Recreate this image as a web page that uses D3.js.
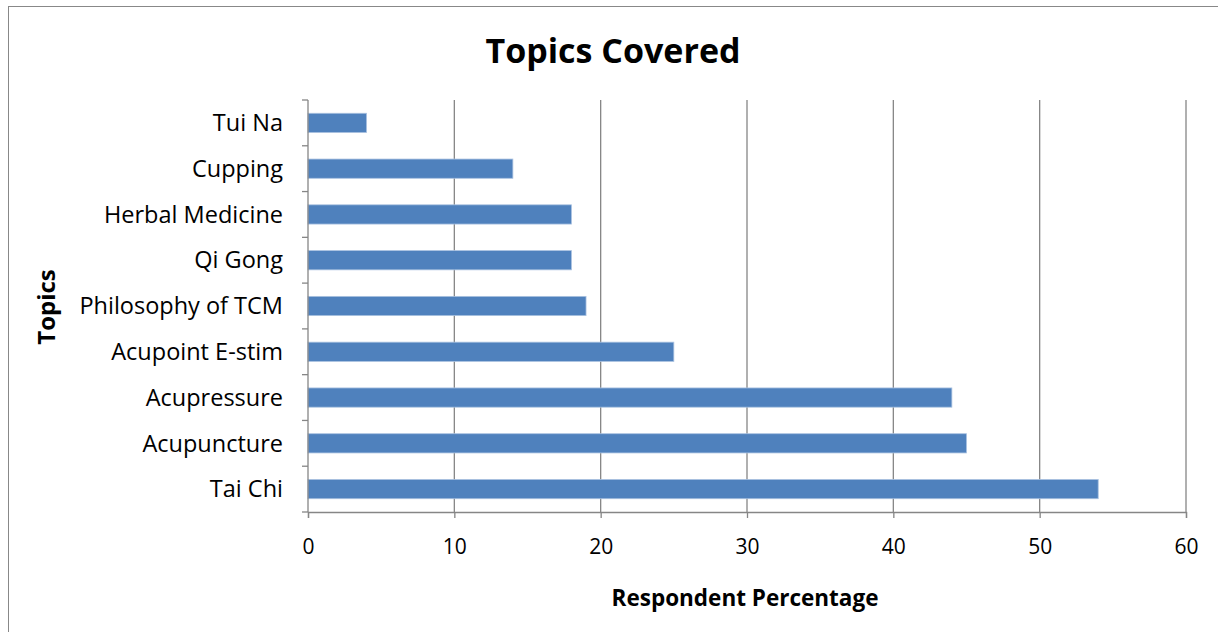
<!DOCTYPE html>
<html>
<head>
<meta charset="utf-8">
<script src="https://cdn.jsdelivr.net/npm/d3@7"></script>
<style>
  body { margin: 0; background: #fff; }
  svg { display: block; font-family: "Open Sans", sans-serif; }
</style>
</head>
<body>
<svg id="chart" width="1218" height="632"></svg>
<script>
'use strict'

// categories top to bottom
const topics = ['Tui Na', 'Cupping', 'Herbal Medicine', 'Qi Gong', 'Philosophy of TCM',
  'Acupoint E-stim', 'Acupressure', 'Acupuncture', 'Tai Chi']
const percentages = [4, 14, 18, 18, 19, 25, 44, 45, 54]
const xTicks = [0, 10, 20, 30, 40, 50, 60]

const svg = d3.select('#chart')
const margin = { top: 100, right: 32, bottom: 120, left: 308 }
const width = 1218 - margin.left - margin.right
const height = 632 - margin.top - margin.bottom

const gridColor = '#868686'
const fontFamily = '"Open Sans", sans-serif'

// chart frame
svg.append('rect')
  .attr('x', 8.5).attr('y', 6.5)
  .attr('width', 1218).attr('height', 640)
  .attr('fill', 'none').attr('stroke', '#888').attr('stroke-width', 1)

const g = svg.append('g').attr('transform', `translate(${margin.left},${margin.top})`)

const x = d3.scaleLinear().domain([0, 60]).range([0, width])
const y = d3.scaleBand().domain(topics).range([0, height]).paddingInner(0.58).paddingOuter(0.29)

// vertical gridlines
g.selectAll('.grid')
  .data(xTicks.slice(1))
  .enter()
  .append('line')
  .attr('x1', (d) => x(d)).attr('x2', (d) => x(d))
  .attr('y1', 0).attr('y2', height)
  .attr('stroke', gridColor).attr('stroke-width', 1.3)

// bars
g.selectAll('.bar')
  .data(topics)
  .enter()
  .append('rect')
  .attr('x', 0)
  .attr('y', (d) => y(d))
  .attr('width', (d, i) => x(percentages[i]))
  .attr('height', y.bandwidth())
  .attr('fill', '#4f81bd')
  .attr('stroke', '#a9c1e0').attr('stroke-width', 0.8)

// x axis
const xAxis = g.append('g')
  .attr('transform', `translate(0,${height})`)
  .call(d3.axisBottom(x).tickValues(xTicks).tickSize(6).tickPadding(21))
xAxis.attr('font-family', fontFamily)
xAxis.select('.domain').attr('stroke', gridColor).attr('stroke-width', 1.3)
xAxis.selectAll('.tick line').attr('stroke', gridColor).attr('stroke-width', 1.3)
xAxis.selectAll('text').attr('font-size', 21).attr('fill', '#000')

// y axis: ticks sit between the categories
const yAxis = g.append('g')
yAxis.append('line')
  .attr('x1', 0).attr('x2', 0).attr('y1', 0).attr('y2', height)
  .attr('stroke', gridColor).attr('stroke-width', 1.3)
yAxis.selectAll('.ytick')
  .data(d3.range(topics.length + 1))
  .enter()
  .append('line')
  .attr('x1', -6).attr('x2', 0)
  .attr('y1', (d) => d * height / topics.length).attr('y2', (d) => d * height / topics.length)
  .attr('stroke', gridColor).attr('stroke-width', 1.3)
yAxis.selectAll('.ylabel')
  .data(topics)
  .enter()
  .append('text')
  .attr('x', -25)
  .attr('y', (d) => y(d) + y.bandwidth() / 2)
  .attr('dy', '0.35em')
  .attr('text-anchor', 'end')
  .attr('font-size', 23.5)
  .text((d) => d)

// titles
svg.append('text')
  .attr('x', 613).attr('y', 63)
  .attr('text-anchor', 'middle')
  .attr('font-size', 34).attr('font-weight', 'bold')
  .text('Topics Covered')

svg.append('text')
  .attr('x', 745).attr('y', 606)
  .attr('text-anchor', 'middle')
  .attr('font-size', 22.5).attr('font-weight', 'bold')
  .text('Respondent Percentage')

svg.append('text')
  .attr('transform', `translate(55,307) rotate(-90)`)
  .attr('text-anchor', 'middle')
  .attr('font-size', 24).attr('font-weight', 'bold')
  .text('Topics')
</script>
</body>
</html>
